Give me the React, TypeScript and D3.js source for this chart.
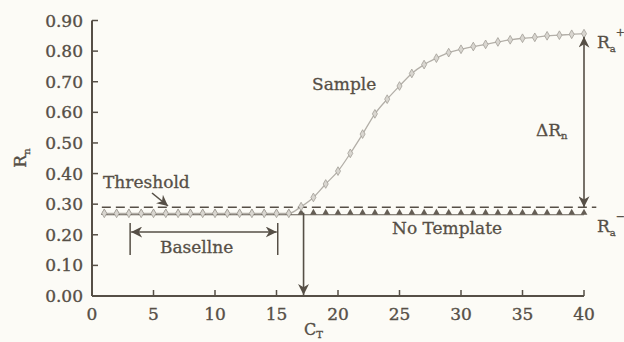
import React from 'react';
import * as d3 from 'd3';

// cycle numbers (x)
const cycles = [
  1, 2, 3, 4, 5, 6, 7, 8, 9, 10, 11, 12, 13, 14, 15, 16, 17, 18, 19, 20,
  21, 22, 23, 24, 25, 26, 27, 28, 29, 30, 31, 32, 33, 34, 35, 36, 37, 38, 39, 40,
];
const sampleRn = [
  0.27, 0.27, 0.27, 0.27, 0.27, 0.27, 0.27, 0.27, 0.27, 0.27, 0.27, 0.27, 0.27, 0.27, 0.27,
  0.27, 0.292, 0.322, 0.366, 0.408, 0.466, 0.529, 0.595, 0.643, 0.686, 0.727, 0.756, 0.777,
  0.795, 0.806, 0.815, 0.822, 0.83, 0.837, 0.842, 0.845, 0.85, 0.852, 0.855, 0.857,
];
const noTemplateRn = [
  0.272, 0.272, 0.272, 0.272, 0.272, 0.272, 0.272, 0.272, 0.272, 0.272, 0.272, 0.272, 0.272,
  0.272, 0.272, 0.272, 0.272, 0.272, 0.272, 0.272, 0.272, 0.272, 0.272, 0.272, 0.272, 0.272,
  0.272, 0.272, 0.272, 0.272, 0.272, 0.272, 0.272, 0.272, 0.272, 0.272, 0.272, 0.272, 0.272,
  0.272,
];
const xTicks = [0, 5, 10, 15, 20, 25, 30, 35, 40];
const yTicks = [0, 0.1, 0.2, 0.3, 0.4, 0.5, 0.6, 0.7, 0.8, 0.9];
const threshold = 0.29;
const thresholdRange = [0.8, 41];
const baselineRange = [3.1, 15.1];
const ct = 17.2;

const ink = '#564f46';
const font = 'DejaVu Serif';

export default function App() {
  const x = d3.scaleLinear().domain([0, 40]).range([92, 584]);
  const y = d3.scaleLinear().domain([0, 0.9]).range([296, 20.5]);

  const sampleLine = d3
    .line<number>()
    .x((_, i) => x(cycles[i]))
    .y((d) => y(d))
    .curve(d3.curveMonotoneX);

  const diamond = d3.symbol().type(d3.symbolDiamond).size(22)();
  const triangle = d3.symbol().type(d3.symbolTriangle).size(20)();

  const lastX = x(40);
  const topY = y(sampleRn[sampleRn.length - 1]);

  return (
    <svg
      width={624}
      height={342}
      style={{ position: 'absolute', left: 0, top: 0, background: '#fcfbf6' }}
      fontFamily={font}
      fill={ink}
      stroke="none"
    >
      <defs>
        <marker id="arr" viewBox="0 0 10 10" refX="10" refY="5" markerWidth="11" markerHeight="11" markerUnits="userSpaceOnUse" orient="auto-start-reverse">
          <path d="M0,0 L10,5 L0,10 L3,5 z" fill={ink} />
        </marker>
      </defs>

      {/* axes */}
      <line x1={x(0)} x2={x(40)} y1={y(0)} y2={y(0)} stroke={ink} strokeWidth={2} />
      <line x1={x(0)} x2={x(0)} y1={y(0)} y2={y(0.9)} stroke={ink} strokeWidth={2} />
      <g stroke={ink} strokeWidth={0.35}>
        {xTicks.map((t) => (
          <g key={'x' + t}>
            <line x1={x(t)} x2={x(t)} y1={y(0)} y2={y(0) - 6} stroke={ink} strokeWidth={1.5} />
            <text x={x(t)} y={320} textAnchor="middle" fontSize={17}>
              {t}
            </text>
          </g>
        ))}
        {yTicks.map((t) => (
          <g key={'y' + t}>
            <line x1={x(0)} x2={x(0) + 6} y1={y(t)} y2={y(t)} stroke={ink} strokeWidth={1.5} />
            <text x={83} y={y(t) + 6} textAnchor="end" fontSize={17}>
              {t.toFixed(2)}
            </text>
          </g>
        ))}
        <text transform={`translate(26,158) rotate(-90)`} fontSize={17} textAnchor="middle">
          R<tspan fontSize={10} dy={4}>n</tspan>
        </text>
        <text x={304} y={335} fontSize={16}>
          C<tspan fontSize={10} dy={3}>T</tspan>
        </text>
      </g>

      {/* threshold */}
      <line
        x1={x(thresholdRange[0])}
        x2={x(thresholdRange[1])}
        y1={y(threshold)}
        y2={y(threshold)}
        stroke={ink}
        strokeWidth={1.6}
        strokeDasharray="9,5"
      />

      {/* no template */}
      {noTemplateRn.map((v, i) => (
        <path key={'nt' + i} d={triangle!} transform={`translate(${x(cycles[i])},${y(v)})`} fill="#655e55" />
      ))}
      <line x1={x(1)} x2={x(40)} y1={y(noTemplateRn[0]) + 2} y2={y(noTemplateRn[0]) + 2} stroke="#655e55" strokeWidth={1.2} />

      {/* sample */}
      <path d={sampleLine(sampleRn)!} fill="none" stroke="#b3afa8" strokeWidth={1.3} />
      {sampleRn.map((v, i) => (
        <path key={'s' + i} d={diamond!} transform={`translate(${x(cycles[i])},${y(v)})`} fill="#d9d6d0" stroke="#a29e97" strokeWidth={0.8} />
      ))}

      {/* Ct arrow */}
      <line x1={x(ct)} x2={x(ct)} y1={y(noTemplateRn[0])} y2={y(0) - 1} stroke={ink} strokeWidth={1.6} markerEnd="url(#arr)" />

      {/* delta Rn arrow */}
      <line x1={lastX} x2={lastX} y1={topY + 3} y2={y(threshold)} stroke={ink} strokeWidth={1.6} markerStart="url(#arr)" markerEnd="url(#arr)" />

      {/* baseline bracket */}
      <line x1={x(baselineRange[0])} x2={x(baselineRange[0])} y1={223} y2={255} stroke={ink} strokeWidth={1.5} />
      <line x1={x(baselineRange[1])} x2={x(baselineRange[1])} y1={223} y2={255} stroke={ink} strokeWidth={1.5} />
      <line
        x1={x(baselineRange[0]) + 1}
        x2={x(baselineRange[1]) - 1}
        y1={232}
        y2={232}
        stroke={ink}
        strokeWidth={1.3}
        markerStart="url(#arr)"
        markerEnd="url(#arr)"
      />

      <g stroke={ink} strokeWidth={0.3} fontSize={17}>
        <text x={x(8.5)} y={253} textAnchor="middle">
          Basellne
        </text>
        <text x={103} y={188}>
          Threshold
        </text>
        <text x={312} y={90}>
          Sample
        </text>
        <text x={392} y={234}>
          No Template
        </text>
        <text x={536} y={136}>
          ΔR<tspan fontSize={10} dy={3}>n</tspan>
        </text>
        <text x={597} y={48}>
          R<tspan fontSize={10} dy={4}>a</tspan>
          <tspan fontSize={11} dy={-16}>+</tspan>
        </text>
        <text x={597} y={232}>
          R<tspan fontSize={10} dy={4}>a</tspan>
          <tspan fontSize={11} dy={-16}>−</tspan>
        </text>
      </g>
      <line x1={152} y1={193} x2={168} y2={206} stroke={ink} strokeWidth={1.6} markerEnd="url(#arr)" />
    </svg>
  );
}
